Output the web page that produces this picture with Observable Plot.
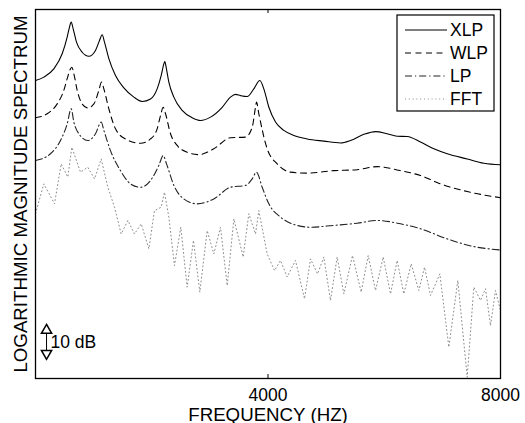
<!DOCTYPE html>
<html><head><meta charset="utf-8">
<script src="https://cdn.jsdelivr.net/npm/d3@7"></script>
<script src="https://cdn.jsdelivr.net/npm/@observablehq/plot@0.6"></script>
<style>body{margin:0;background:#fff} svg{display:block}</style>
</head><body><div id="chart"></div>
<script>
// ---- data (frequency in Hz, level in dB, arbitrary offset) ----
const seriesNames = ["XLP", "WLP", "LP", "FFT"];
const xTicks = [4000, 8000];

const xlpPoints = [[0,96.9],[143,98.0],[315,100.7],[459,105.6],[545,111.0],[585,114.3],[614,115.9],[648,113.7],[705,109.4],[803,106.1],
 [918,104.8],[1032,106.7],[1101,109.9],[1147,111.8],[1187,109.4],[1262,104.0],[1376,98.5],[1520,94.5],[1692,91.5],[1835,90.1],
 [1979,90.9],[2093,94.2],[2162,98.5],[2208,102.3],[2225,103.1],[2248,101.2],[2294,96.4],[2380,91.5],[2523,87.2],[2695,84.8],
 [2839,83.9],[3011,85.0],[3212,88.2],[3355,91.5],[3441,92.4],[3527,92.0],[3642,91.7],[3756,94.2],[3860,96.9],[3928,94.2],
 [4015,88.2],[4129,83.4],[4273,80.7],[4445,79.0],[4674,77.9],[4960,77.2],[5248,76.6],[5419,77.4],[5649,79.4],[5850,80.3],[6050,79.6],
 [6222,78.8],[6395,78.7],[6624,76.9],[6853,74.7],[7083,73.1],[7427,71.4],[7714,70.0],[8000,69.5]];

const wlpPoints = [[0,84.8],[201,86.1],[373,89.3],[487,93.7],[545,97.5],[602,100.7],[625,101.2],[660,99.1],[717,93.7],[803,89.3],
 [900,88.0],[1004,89.3],[1090,93.7],[1136,96.4],[1176,94.2],[1262,87.7],[1376,81.2],[1548,77.9],[1807,76.5],[1979,77.9],
 [2093,81.2],[2151,85.5],[2197,88.2],[2237,86.1],[2323,79.6],[2437,75.8],[2609,73.6],[2810,72.8],[3068,74.7],[3355,78.3],
 [3613,78.5],[3728,81.7],[3785,88.2],[3802,89.9],[3842,86.1],[3986,74.7],[4158,69.8],[4387,67.1],[4674,66.8],[5133,67.6],
 [5534,67.9],[5878,68.9],[6280,67.6],[6624,66.0],[6968,63.3],[7427,60.8],[8000,58.8]];

const lpPoints = [[0,70.9],[258,73.1],[430,77.4],[545,82.8],[614,87.7],[660,83.4],[746,79.6],[900,77.4],[1032,79.6],[1130,83.4],
 [1176,80.7],[1290,74.1],[1462,67.6],[1634,63.3],[1807,62.2],[1979,64.4],[2122,69.3],[2197,72.5],[2254,69.8],[2380,62.8],
 [2552,58.4],[2781,56.8],[3068,58.4],[3355,62.2],[3613,62.8],[3728,64.9],[3802,67.1],[3900,62.2],[4015,56.8],[4215,52.5],
 [4445,50.1],[4731,49.2],[5133,49.8],[5534,50.5],[5878,51.4],[6280,50.3],[6624,48.7],[7083,45.4],[7542,42.9],[8000,41.8]];

const fftPoints = [[0,53.6],[143,63.3],[327,56.8],[442,69.8],[556,65.5],[625,75.2],[774,67.1],[900,68.7],[1015,64.9],[1130,71.4],
 [1245,62.2],[1359,55.7],[1474,47.0],[1589,51.4],[1703,47.0],[1818,50.3],[1950,42.2],[2047,54.6],[2162,55.7],[2219,60.6],
 [2294,52.5],[2391,36.7],[2500,49.2],[2609,29.7],[2718,44.9],[2827,28.1],[2954,48.1],[3068,40.5],[3183,49.2],[3298,30.2],
 [3413,51.9],[3573,39.5],[3670,53.6],[3785,47.0],[3842,54.6],[3986,40.5],[4112,35.1],[4215,38.4],[4330,33.0],[4473,38.4],
 [4628,25.9],[4731,38.9],[4852,34.0],[4961,39.5],[5075,25.4],[5190,39.5],[5305,27.5],[5454,40.0],[5603,28.1],[5724,40.0],
 [5850,28.6],[5982,39.5],[6108,27.5],[6222,38.4],[6337,27.5],[6463,37.3],[6595,28.6],[6693,36.2],[6796,27.0],[6957,34.0],
 [7111,10.2],[7266,31.9],[7427,0.4],[7541,29.7],[7656,25.4],[7742,29.2],[7828,17.2],[7914,28.6],[8000,22.1]];

const scaleBar = [{freq: 190, low: 6.2, high: 17.6, label: "10 dB"}];

// ---- styles (kept apart from data) ----
const seriesStyles = {
  XLP: {stroke: "#000", strokeWidth: 1.1, dash: null},
  WLP: {stroke: "#000", strokeWidth: 1.1, dash: "6,4.5"},
  LP:  {stroke: "#222", strokeWidth: 1.1, dash: "7,3,1.2,3"},
  FFT: {stroke: "#8c8c8c", strokeWidth: 1, dash: "1,2.8"}
};
const seriesData = {XLP: xlpPoints, WLP: wlpPoints, LP: lpPoints, FFT: fftPoints};
const rows = s => seriesData[s].map(([freq, level]) => ({series: s, freq, level}));

const downTriangle = {draw(ctx, size) {
  const y = Math.sqrt(size / (3 * Math.sqrt(3)));
  ctx.moveTo(0, 2 * y); ctx.lineTo(-Math.sqrt(3) * y, -y); ctx.lineTo(Math.sqrt(3) * y, -y); ctx.closePath();
}};

function legendMark(index, scales, values, dimensions) {
  const {width, marginRight, marginTop} = dimensions;
  const bw = 97, bh = 96;
  const x0 = width - marginRight - 6 - bw, y0 = marginTop + 6;
  const g = d3.create("svg:g");
  g.append("rect").attr("x", x0).attr("y", y0).attr("width", bw).attr("height", bh)
    .attr("fill", "white").attr("stroke", "black").attr("stroke-width", 1.2);
  seriesNames.forEach((s, i) => {
    const st = seriesStyles[s];
    const yy = y0 + 15 + i * 23;
    g.append("line").attr("x1", x0 + 8).attr("x2", x0 + 50).attr("y1", yy).attr("y2", yy)
      .attr("stroke", st.stroke).attr("stroke-width", st.strokeWidth)
      .attr("stroke-dasharray", st.dash);
    g.append("text").attr("x", x0 + 53).attr("y", yy).attr("dy", "0.36em")
      .attr("text-anchor", "start")
      .attr("font-size", 17.5).attr("fill", "black").text(s);
  });
  return g.node();
}

const lineMarks = seriesNames.slice().reverse().map(s => {
  const st = seriesStyles[s];
  return Plot.line(rows(s), {x: "freq", y: "level", stroke: st.stroke, strokeWidth: st.strokeWidth,
    strokeDasharray: st.dash || undefined, curve: s === "FFT" ? "linear" : "monotone-x"});
});

const chart = Plot.plot({
  width: 525, height: 423,
  marginLeft: 35, marginRight: 25, marginTop: 9, marginBottom: 45,
  style: {fontFamily: "'Liberation Sans', Arial, sans-serif", fontSize: "17.5px", color: "black", background: "white", overflow: "visible"},
  x: {domain: [0, 8000], ticks: xTicks, tickSize: 0, tickPadding: 10, tickFormat: d => String(d), label: null},
  y: {domain: [0, 120], axis: null},
  marks: [
    ...lineMarks,
    Plot.ruleX(xTicks, {stroke: "black", insetTop: 365}),
    Plot.ruleX(xTicks, {stroke: "black", insetBottom: 365}),
    Plot.frame({stroke: "black", strokeWidth: 1.3}),
    Plot.ruleX(scaleBar, {x: "freq", y1: "low", y2: "high", stroke: "black"}),
    Plot.dot(scaleBar, {x: "freq", y: "high", symbol: "triangle", r: 3.8, dy: 6, fill: "white", stroke: "black"}),
    Plot.dot(scaleBar, {x: "freq", y: "low", symbol: downTriangle, r: 3.8, dy: -6, fill: "white", stroke: "black"}),
    Plot.text(scaleBar, {x: "freq", y: d => (d.low + d.high) / 2, text: "label", textAnchor: "start", dx: 4, fontSize: 17.5}),
    Plot.text(["LOGARITHMIC MAGNITUDE SPECTRUM"], {text: d => d, frameAnchor: "left", rotate: -90, dx: -9, textAnchor: "middle", lineAnchor: "bottom", fontSize: 18.7}),
    Plot.text(["FREQUENCY (HZ)"], {text: d => d, frameAnchor: "bottom", dy: 42, textAnchor: "middle", lineAnchor: "bottom", fontSize: 18.7}),
    legendMark
  ]
});
document.getElementById("chart").append(chart);
</script>
</body></html>
